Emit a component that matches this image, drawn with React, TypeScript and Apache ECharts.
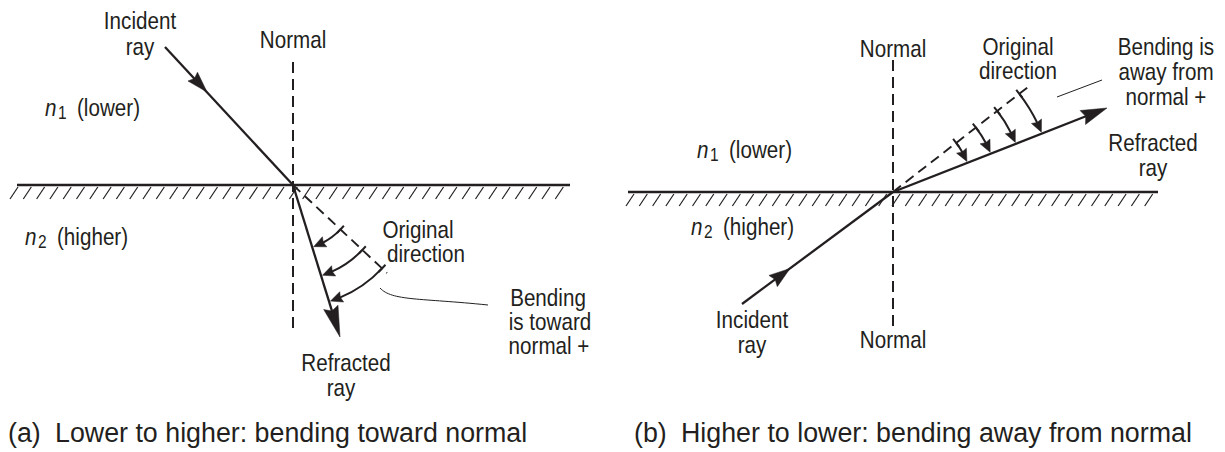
import React, { useEffect, useRef } from "react";
import * as echarts from "echarts";

const INK = "#231f20";
const FONT = "'Liberation Sans', Arial, Helvetica, sans-serif";
const LABEL_SIZE = 24;
const LABEL_SCALE = 0.86;

// ---------- Panel (a): lower to higher ----------
const A_ORIGIN = [293, 185];
const A_SURFACE_X = [17, 570];
const A_HATCH_X = [10, 566];
const A_HATCH_Y = [187, 199];
const A_NORMAL_Y = [62, 328];
const A_INCIDENT_START = [165, 47];
const A_INCIDENT_ARROW_TIP = [207, 92];
const A_REFRACTED_END = [340, 337];
const A_ORIGINAL_END = [387, 273];
const A_BEND_RADII = [65, 95, 122];
const A_LEADER = [380, 288, 392, 301, 420, 298, 488, 305];

// ---------- Panel (b): higher to lower ----------
const B_ORIGIN = [893, 192];
const B_SURFACE_X = [628, 1158];
const B_HATCH_X = [626, 1156];
const B_HATCH_Y = [194, 206];
const B_NORMAL_Y = [60, 327];
const B_INCIDENT_START = [742, 304];
const B_INCIDENT_ARROW_TIP = [790, 268.5];
const B_REFRACTED_END = [1107, 108];
const B_ORIGINAL_END = [1028, 87];
const B_BEND_RADII = [80, 105, 132, 160];
const B_LEADER = [1057, 97, 1102, 80];

// ---------- Labels: [text, x, y] (centre aligned) ----------
const LABELS: [string, number, number][] = [
  ["Incident", 140, 21],
  ["ray", 140, 47],
  ["Normal", 293, 40],
  ["Original", 418, 230],
  ["direction", 426, 254],
  ["Bending", 548, 298],
  ["is toward", 550, 322],
  ["normal +", 549, 346],
  ["Refracted", 346, 363],
  ["ray", 341, 388],
  ["Normal", 893, 49],
  ["Original", 1018, 47],
  ["direction", 1018, 71],
  ["Bending is", 1166, 47],
  ["away from", 1166, 72],
  ["normal +", 1166, 97],
  ["Refracted", 1153, 143],
  ["ray", 1153, 168],
  ["Incident", 752, 320],
  ["ray", 752, 345],
  ["Normal", 893, 340],
];

// Refractive index labels: [subscript, descriptor, x of n, y]
const INDEX_LABELS: [string, string, number, number][] = [
  ["1", "(lower)", 45, 108],
  ["2", "(higher)", 25, 237],
  ["1", "(lower)", 697, 150],
  ["2", "(higher)", 691, 227],
];

const CAPTIONS: [string, string, number, number][] = [
  ["(a)", "Lower to higher: bending toward normal", 8, 55],
  ["(b)", "Higher to lower: bending away from normal", 634, 681],
];
const CAPTION_Y = 433;
const CAPTION_SIZE = 26.8;

type Pt = number[];

function arrowHead(tip: Pt, angle: number, len: number, half: number) {
  const c = Math.cos(angle);
  const s = Math.sin(angle);
  const bx = tip[0] - len * c;
  const by = tip[1] - len * s;
  const nx = bx + len * 0.12 * c;
  const ny = by + len * 0.12 * s;
  return {
    type: "polygon",
    shape: {
      points: [
        [tip[0], tip[1]],
        [bx - half * s, by + half * c],
        [nx, ny],
        [bx + half * s, by - half * c],
      ],
    },
    style: { fill: INK, stroke: INK, lineWidth: 0.5 },
    silent: true,
  };
}

function line(x1: number, y1: number, x2: number, y2: number, lw: number, dash?: number[]) {
  return {
    type: "line",
    shape: { x1, y1, x2, y2 },
    style: { stroke: INK, lineWidth: lw, lineDash: dash, fill: "none" },
    silent: true,
  };
}

function angleOf(from: Pt, to: Pt) {
  return Math.atan2(to[1] - from[1], to[0] - from[0]);
}

function hatch(xr: number[], yr: number[]) {
  const els: any[] = [];
  const dx = 8;
  for (let x = xr[0]; x <= xr[1] - dx; x += 13.3) {
    els.push(line(x, yr[1], x + dx, yr[0], 1.2));
  }
  return els;
}

function bendArrows(origin: Pt, dashEnd: Pt, refEnd: Pt, radii: number[]) {
  const els: any[] = [];
  const a0 = angleOf(origin, dashEnd);
  const a1 = angleOf(origin, refEnd);
  const L = 12;
  radii.forEach((r) => {
    const tipA = a1 - 1.5 / r;
    const baseA = tipA - L / r;
    els.push({
      type: "arc",
      shape: { cx: origin[0], cy: origin[1], r, startAngle: a0, endAngle: baseA + 2 / r, clockwise: true },
      style: { stroke: INK, lineWidth: 2, fill: "none" },
      silent: true,
    });
    const tip = [origin[0] + r * Math.cos(tipA), origin[1] + r * Math.sin(tipA)];
    const base = [origin[0] + r * Math.cos(baseA), origin[1] + r * Math.sin(baseA)];
    els.push(arrowHead(tip, angleOf(base, tip), L, 5.5));
    // tick across the dashed line
    const p = [origin[0] + r * Math.cos(a0), origin[1] + r * Math.sin(a0)];
    const tx = -Math.sin(a0);
    const ty = Math.cos(a0);
    els.push(line(p[0] - 5 * tx, p[1] - 5 * ty, p[0] + 5 * tx, p[1] + 5 * ty, 2));
  });
  return els;
}

function label(text: string, x: number, y: number, align = "center", size = LABEL_SIZE, italic = false, scale = LABEL_SCALE) {
  return {
    type: "text",
    x,
    y,
    scaleX: scale,
    silent: true,
    style: {
      text,
      fill: INK,
      fontSize: size,
      fontFamily: FONT,
      fontStyle: italic ? "italic" : "normal",
      align,
      verticalAlign: "middle",
    },
  };
}

function panel(
  origin: Pt,
  surfaceX: number[],
  hatchX: number[],
  hatchY: number[],
  normalY: number[],
  incStart: Pt,
  incTip: Pt,
  refEnd: Pt,
  origEnd: Pt,
  radii: number[],
  incArrow: number[],
  refArrow: number[]
) {
  const els: any[] = [];
  els.push(...hatch(hatchX, hatchY));
  els.push(line(surfaceX[0], origin[1], surfaceX[1], origin[1], 2.6));
  els.push(line(origin[0], normalY[0], origin[0], normalY[1], 2, [11, 6]));
  els.push(line(origin[0], origin[1], origEnd[0], origEnd[1], 1.9, [10, 6]));
  els.push(line(incStart[0], incStart[1], origin[0], origin[1], 2.3));
  els.push(arrowHead(incTip, angleOf(incStart, origin), incArrow[0], incArrow[1]));
  const ra = angleOf(origin, refEnd);
  const refLen = refArrow[0];
  els.push(line(origin[0], origin[1], refEnd[0] - (refLen - 4) * Math.cos(ra), refEnd[1] - (refLen - 4) * Math.sin(ra), 2.3));
  els.push(arrowHead(refEnd, ra, refArrow[0], refArrow[1]));
  els.push(...bendArrows(origin, origEnd, refEnd, radii));
  return els;
}

export default function App() {
  const ref = useRef<HTMLDivElement>(null);
  useEffect(() => {
    if (!ref.current) return;
    const chart = echarts.init(ref.current, undefined, { renderer: "svg" });
    const els: any[] = [];
    els.push(
      ...panel(A_ORIGIN, A_SURFACE_X, A_HATCH_X, A_HATCH_Y, A_NORMAL_Y, A_INCIDENT_START, A_INCIDENT_ARROW_TIP,
        A_REFRACTED_END, A_ORIGINAL_END, A_BEND_RADII, [21, 6.5], [31, 7.5])
    );
    els.push(
      ...panel(B_ORIGIN, B_SURFACE_X, B_HATCH_X, B_HATCH_Y, B_NORMAL_Y, B_INCIDENT_START, B_INCIDENT_ARROW_TIP,
        B_REFRACTED_END, B_ORIGINAL_END, B_BEND_RADII, [21, 7], [26, 7.5])
    );
    els.push({
      type: "bezierCurve",
      shape: {
        x1: A_LEADER[0], y1: A_LEADER[1], cpx1: A_LEADER[2], cpy1: A_LEADER[3],
        cpx2: A_LEADER[4], cpy2: A_LEADER[5], x2: A_LEADER[6], y2: A_LEADER[7],
      },
      style: { stroke: INK, lineWidth: 1, fill: "none" },
      silent: true,
    });
    els.push(line(B_LEADER[0], B_LEADER[1], B_LEADER[2], B_LEADER[3], 1));

    LABELS.forEach(([t, x, y]) => els.push(label(t, x, y)));
    INDEX_LABELS.forEach(([sub, desc, x, y]) => {
      els.push(label("n", x, y, "left", LABEL_SIZE, true));
      els.push(label(sub, x + 13, y + 5, "left", 18));
      els.push(label(desc, x + 32, y, "left"));
    });
    CAPTIONS.forEach(([tag, text, x1, x2]) => {
      els.push(label(tag, x1, CAPTION_Y, "left", CAPTION_SIZE, false, 1));
      els.push(label(text, x2, CAPTION_Y, "left", CAPTION_SIZE, false, 1));
    });

    chart.setOption({
      animation: false,
      backgroundColor: "#ffffff",
      graphic: { elements: els },
    });
    return () => chart.dispose();
  }, []);
  return (
    <div
      ref={ref}
      style={{ position: "absolute", left: 0, top: 0, width: 1225, height: 452, background: "#fff" }}
    />
  );
}
